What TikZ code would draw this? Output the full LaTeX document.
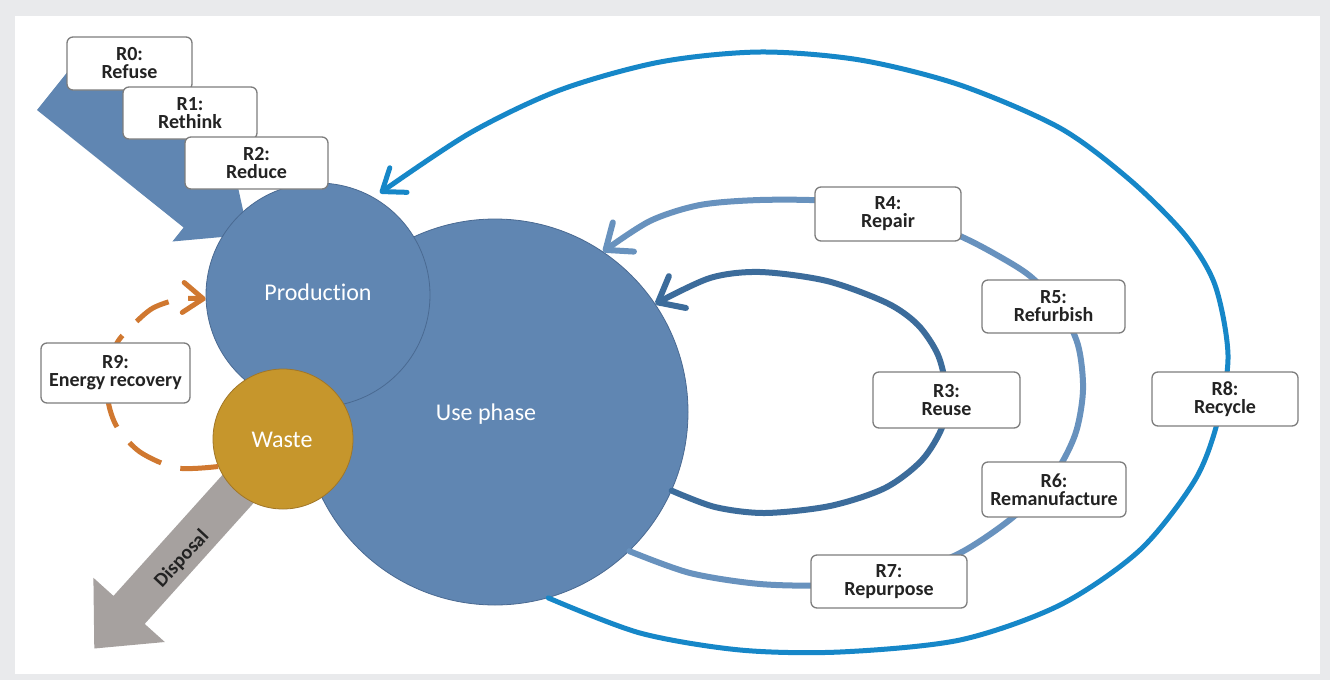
\documentclass[tikz,border=0pt]{standalone}
\usepackage{fontspec}
\setmainfont{Carlito}[Ligatures=NoCommon]
\usetikzlibrary{arrows.meta}
\definecolor{bgframe}{RGB}{233,234,236}
\definecolor{cblue}{RGB}{96,134,178}
\definecolor{cblueedge}{RGB}{74,106,146}
\definecolor{cwaste}{RGB}{198,150,44}
\definecolor{cwasteedge}{RGB}{160,118,40}
\definecolor{cdisp}{RGB}{166,161,159}
\definecolor{lreight}{RGB}{22,135,200}
\definecolor{lrfour}{RGB}{104,146,190}
\definecolor{lrthree}{RGB}{60,108,155}
\definecolor{lorange}{RGB}{208,120,48}
\definecolor{boxedge}{RGB}{125,125,125}
\definecolor{boxtext}{RGB}{35,35,35}
\begin{document}
\begin{tikzpicture}[x=1pt,y=-1pt,
  rbox/.style={draw=boxedge, line width=1.3pt, fill=white, rounded corners=6pt,
    align=center, inner sep=0pt, text=boxtext, font=\fontsize{20}{18}\selectfont\bfseries},
  phase/.style={circle, inner sep=0pt, line width=0.8pt},
  ptext/.style={text=white, font=\fontsize{24}{28}\selectfont},
  loopa/.style={draw=lreight, line width=5pt, line cap=round,
    -{Straight Barb[length=20pt,width=30pt,round]}},
  loopb/.style={draw=lrfour, line width=6pt, line cap=round,
    -{Straight Barb[length=22pt,width=36pt,round]}},
  loopc/.style={draw=lrthree, line width=6pt, line cap=round,
    -{Straight Barb[length=22pt,width=36pt,round]}},
  loopd/.style={draw=lorange, line width=5pt, dash pattern=on 38pt off 20pt,
    -{Straight Barb[length=20pt,width=30pt,round]}}
]
\path[use as bounding box] (0,0) rectangle (1330,680);
\fill[bgframe] (0,0) rectangle (1330,680);
\fill[white] (15,16) rectangle (1320,674);

% big input arrow (R0-R2)
\fill[cblue] (37,110) -- (80.75,55.4) -- (227.35,172.9) -- (232,160) -- (248.4,234.6)
  -- (172.4,241.5) -- (183.6,227.5) -- cycle;

% circles
\node[phase, fill=cblue, draw=cblueedge, minimum size=386pt] (use) at (495,412) {};
\node[phase, fill=cblue, draw=cblueedge, minimum size=224pt] (prod) at (318,295) {};
\node[ptext] (prodlbl) at (318,292) {Production};
\node[ptext] (uselbl) at (486,414) {Use phase};

% disposal arrow
\fill[cdisp] (267.4,425) -- (298.6,453) -- (144.7,623.9) -- (164.8,642) -- (94.3,648.5)
  -- (93.4,577.8) -- (113.5,595.9) -- cycle;
\node[rotate=47, text=boxtext, font=\fontsize{20}{24}\selectfont\bfseries] (displbl) at (182,559) {Disposal};

\node[phase, fill=cwaste, draw=cwasteedge, minimum size=140pt] (waste) at (283,439) {};
\node[ptext] (wastelbl) at (282,440) {Waste};

% loops
\coordinate (r8tip) at (380,193);
\draw[loopa] plot[smooth] coordinates {(use.-74) (640,633) (740,650) (840,652) (960,640)
  (1060,605) (1140,550) (1195,480) (1218,420) (1228,355) (1215,285) (1185,235) (1130,180)
  (1060,128) (960,85) (860,60) (760,52) (660,62) (560,90) (470,133) (r8tip)};
\draw[loopb] plot[smooth] coordinates {(use.-46) (690,573) (760,584) (830,585) (900,576)
  (960,553) (1012,518) (1052,478) (1075,435) (1083,390) (1078,345) (1060,308) (1030,276)
  (995,254) (960,236) (900,211) (830,201) (760,200) (700,205) (650,221) (use.56)};
\draw[loopc] plot[smooth] coordinates {(use.-24) (715,507) (765,513) (830,506) (885,488)
  (922,460) (943,425) (946,390) (938,355) (918,325) (887,303) (827,281) (760,272) (710,278) (use.34)};
\draw[loopd] plot[smooth] coordinates {(waste.-157) (177,468) (140,452) (117,427) (108,400)
  (110,370) (117,343) (133,325) (153,308) (180,299) (prod.-178)};

% boxes
\node[rbox, minimum width=125pt, minimum height=53pt] (r0) at (129.5,63.5) {R0:\\Refuse};
\node[rbox, minimum width=134pt, minimum height=52pt] (r1) at (190,113) {R1:\\Rethink};
\node[rbox, minimum width=143pt, minimum height=52pt] (r2) at (256.5,163) {R2:\\Reduce};
\node[rbox, minimum width=149pt, minimum height=60pt] (r9) at (115.5,373) {R9:\\Energy recovery};
\node[rbox, minimum width=146pt, minimum height=54pt] (r4) at (888,214) {R4:\\Repair};
\node[rbox, minimum width=147pt, minimum height=56pt] (r3) at (946.5,400) {R3:\\Reuse};
\node[rbox, minimum width=143pt, minimum height=53pt] (r5) at (1053.5,306.5) {R5:\\Refurbish};
\node[rbox, minimum width=146pt, minimum height=54pt] (r8) at (1225,399) {R8:\\Recycle};
\node[rbox, minimum width=144pt, minimum height=55pt] (r6) at (1054,489.5) {R6:\\Remanufacture};
\node[rbox, minimum width=156pt, minimum height=53pt] (r7) at (889,581.5) {R7:\\Repurpose};
\end{tikzpicture}
\end{document}
